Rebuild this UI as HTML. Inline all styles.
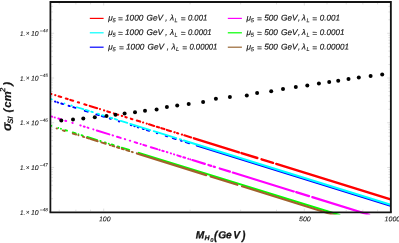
<!DOCTYPE html>
<html><head><meta charset="utf-8"><title>plot</title>
<style>
html,body{margin:0;padding:0;background:#fff;}
body{width:399px;height:243px;overflow:hidden;font-family:"Liberation Sans",sans-serif;}
svg{display:block;position:absolute;left:0;top:0;}
text{font-family:"Liberation Sans",sans-serif;fill:#000;text-rendering:geometricPrecision;}
.lg{font-size:8.25px;font-style:italic;stroke:#000;stroke-width:0.16px;}
.sb{font-size:5.6px;font-style:italic;stroke:#000;stroke-width:0.12px;}
.tk{font-size:6.7px;font-style:italic;fill:#000;stroke:#000;stroke-width:0.1px;}
.sp{font-size:4.7px;font-style:italic;fill:#000;stroke:#000;stroke-width:0.08px;}
.ax{font-size:10.2px;font-style:italic;font-weight:bold;fill:#000;stroke:#000;stroke-width:0.3px;}
.ay{font-size:11.2px;font-style:italic;font-weight:bold;fill:#000;stroke:#000;stroke-width:0.22px;}
.ays{font-size:7.8px;font-style:italic;font-weight:bold;fill:#000;stroke:#000;stroke-width:0.1px;}
.axs{font-size:7.0px;font-style:italic;font-weight:bold;fill:#000;stroke:#000;stroke-width:0.22px;}
.axss{font-size:5.8px;font-style:italic;font-weight:bold;fill:#000;stroke:#000;stroke-width:0.1px;}
</style></head><body>
<svg width="399" height="243" viewBox="0 0 399 243">
<rect x="0" y="0" width="399" height="243" fill="#fff"/>
<defs><clipPath id="cp"><rect x="50.4" y="2" width="340.5" height="212.6"/></clipPath></defs>

<g clip-path="url(#cp)">
<path d="M51.39 125.81L51.41 125.81M58.22 127.92L58.28 127.94M60.92 128.76L61.08 128.81M65.22 130.09L67.08 130.66M72.72 132.41L75.78 133.36M78.49 134.19L78.51 134.20M81.52 135.13L82.78 135.52M87.22 136.90L97.28 140.01M100.22 140.92L100.78 141.09M104.72 142.31L105.78 142.64M108.72 143.55L108.78 143.57M111.72 144.48L113.78 145.12M117.72 146.34L119.28 146.82M121.72 147.57L129.28 149.91" stroke="#00ff00" stroke-width="1.8" stroke-linecap="round" fill="none"/>
<path d="M138.80 152.86L339.50 214.98" stroke="#00ff00" stroke-width="2.0" stroke-linecap="round" fill="none"/>
<path d="M56.56 128.42L57.04 128.57M62.76 130.36L64.74 130.97M72.76 133.48L76.24 134.56M78.39 135.23L78.41 135.24M82.76 136.60L84.24 137.06M86.76 137.84L89.24 138.62M90.76 139.09L97.74 141.27M101.26 142.37L105.74 143.77M109.76 145.02L110.24 145.17M112.26 145.80L114.24 146.42M116.96 147.27L119.24 147.98M121.76 148.76L123.74 149.38M126.26 150.17L129.24 151.10M131.76 151.88L132.74 152.19" stroke="#a0622c" stroke-width="1.9" stroke-linecap="round" fill="none"/>
<path d="M136.88 153.48L206.20 175.11M210.58 176.48L237.32 184.82M242.08 186.30L335.50 215.45" stroke="#a0622c" stroke-width="2.2" stroke-linecap="round" fill="none"/>
<path d="M51.80 116.53L52.20 116.66M54.74 117.44L54.76 117.45M58.30 118.55L61.70 119.60M65.30 120.71L66.20 120.99M72.30 122.88L72.70 123.00M80.30 125.35L80.70 125.48M83.80 126.44L84.70 126.72M87.60 127.61L88.40 127.86M93.30 129.38L93.40 129.41M96.80 130.46L109.40 134.36M112.60 135.35L113.00 135.47M117.00 136.71L120.70 137.86M124.80 139.13L125.20 139.25M129.80 140.67L130.20 140.80M134.60 142.16L137.20 142.96M140.60 144.02L140.70 144.05M143.30 144.85L146.20 145.75M150.80 147.17L157.20 149.15M159.30 149.80L159.70 149.93M162.30 150.73L163.70 151.17M166.80 152.13L167.40 152.31M170.80 153.36L171.00 153.43M174.00 154.35L174.20 154.42M177.30 155.38L180.70 156.43M183.30 157.23L185.20 157.82M188.24 158.76L188.26 158.77M190.24 159.38L190.26 159.39" stroke="#ff00ff" stroke-width="2.0" stroke-linecap="round" fill="none"/>
<path d="M192.38 160.04L204.82 163.89M208.38 164.99L211.12 165.84M213.68 166.64L214.92 167.02M219.68 168.49L229.92 171.66M232.78 172.55L293.80 191.43M296.18 192.17L309.02 196.14M312.28 197.15L369.20 214.77" stroke="#ff00ff" stroke-width="2.2" stroke-linecap="round" fill="none"/>
<path d="M54.96 101.52L55.44 101.67M57.56 102.32L58.24 102.54M61.26 103.47L63.24 104.09M68.56 105.74L69.74 106.11M73.26 107.20L75.44 107.88M84.76 110.78L87.74 111.70M96.26 114.35L98.74 115.12M101.76 116.06L104.24 116.83M109.76 118.54L110.74 118.85M118.76 121.34L119.24 121.49M130.76 125.07L131.44 125.28M134.36 126.19L134.84 126.34M137.76 127.24L138.44 127.45M142.76 128.80L143.74 129.10M146.76 130.04L149.24 130.81M156.76 133.15L157.24 133.30M165.76 135.94L167.24 136.40M172.76 138.12L175.74 139.04M180.76 140.60L181.74 140.91M185.76 142.16L189.24 143.24" stroke="#0000ff" stroke-width="1.9" stroke-linecap="round" fill="none"/>
<path d="M196.80 145.59L392.00 206.24" stroke="#0000ff" stroke-width="2.0" stroke-linecap="round" fill="none"/>
<path d="M51.12 99.22L51.78 99.43M64.49 103.38L64.51 103.38M71.22 105.47L71.78 105.64M76.92 107.24L83.28 109.22M85.72 109.97L88.78 110.92M91.22 111.68L92.78 112.17M97.72 113.70L99.08 114.12M102.22 115.10L103.78 115.59M110.22 117.59L112.28 118.23M114.72 118.98L117.28 119.78M120.72 120.85L127.28 122.89M130.22 123.80L150.28 130.03M153.72 131.10L176.28 138.11M179.72 139.18L181.28 139.66" stroke="#00ffff" stroke-width="1.8" stroke-linecap="round" fill="none"/>
<path d="M183.84 140.46L392.00 205.14" stroke="#00ffff" stroke-width="2.1" stroke-linecap="round" fill="none"/>
<path d="M51.34 93.99L51.36 94.00M55.24 95.20L55.36 95.24M58.64 96.26L61.16 97.04M65.84 98.50L67.66 99.06M70.34 99.90L73.16 100.77M77.84 102.23L78.96 102.57M84.34 104.25L86.46 104.90M89.74 105.92L97.16 108.23M99.99 109.11L100.01 109.11M104.04 110.37L104.16 110.40M107.34 111.39L109.96 112.21M113.84 113.41L113.96 113.45M117.84 114.65L118.16 114.75M121.84 115.90L122.16 116.00M125.34 116.98L126.66 117.39M130.84 118.69L132.36 119.16M136.84 120.56L140.16 121.59M143.04 122.48L143.16 122.52M146.74 123.63L146.76 123.64M149.04 124.35L154.16 125.94M156.84 126.77L159.16 127.49M161.34 128.17L164.36 129.11M166.84 129.88L170.96 131.16M174.34 132.21L174.66 132.31M177.04 133.05L178.16 133.40M181.84 134.54L181.96 134.58M184.34 135.32L191.16 137.43" stroke="#ff0000" stroke-width="2.1" stroke-linecap="round" fill="none"/>
<path d="M193.96 138.30L239.00 152.30M241.46 153.06L257.34 158.00M261.56 159.31L273.04 162.87M276.26 163.87L392.00 199.84" stroke="#ff0000" stroke-width="2.4" stroke-linecap="round" fill="none"/>
</g>
<g fill="#000">
<circle cx="61.3" cy="120.4" r="2.0"/>
<circle cx="73.0" cy="119.5" r="2.0"/>
<circle cx="83.3" cy="118.5" r="2.0"/>
<circle cx="94.8" cy="117.3" r="2.0"/>
<circle cx="106.5" cy="116.0" r="2.0"/>
<circle cx="115.5" cy="114.8" r="2.0"/>
<circle cx="124.6" cy="113.5" r="2.0"/>
<circle cx="135" cy="112.2" r="2.0"/>
<circle cx="145" cy="110.7" r="2.0"/>
<circle cx="156.6" cy="109.4" r="2.0"/>
<circle cx="166.9" cy="107.1" r="2.0"/>
<circle cx="177.2" cy="105.4" r="2.0"/>
<circle cx="188.7" cy="104.1" r="2.0"/>
<circle cx="203.1" cy="101.9" r="2.0"/>
<circle cx="215.9" cy="98.8" r="2.0"/>
<circle cx="229.9" cy="97.1" r="2.0"/>
<circle cx="246.8" cy="95.4" r="2.0"/>
<circle cx="257.1" cy="92.9" r="2.0"/>
<circle cx="271.2" cy="91.2" r="2.0"/>
<circle cx="283" cy="89.1" r="2.0"/>
<circle cx="295.8" cy="87.1" r="2.0"/>
<circle cx="307.3" cy="85.4" r="2.0"/>
<circle cx="318.9" cy="83.5" r="2.0"/>
<circle cx="329.2" cy="82.1" r="2.0"/>
<circle cx="338.2" cy="80.8" r="2.0"/>
<circle cx="348.5" cy="78.9" r="2.0"/>
<circle cx="358.8" cy="77.6" r="2.0"/>
<circle cx="370.6" cy="75.9" r="2.0"/>
<circle cx="382.2" cy="74.4" r="2.0"/>
</g>
<path d="M51.3 198.73h1.6M390 198.73h-1.6M51.3 190.86h1.6M390 190.86h-1.6M51.3 185.27h1.6M390 185.27h-1.6M51.3 180.94h1.6M390 180.94h-1.6M51.3 177.39h1.6M390 177.39h-1.6M51.3 174.40h1.6M390 174.40h-1.6M51.3 171.80h1.6M390 171.80h-1.6M51.3 169.52h1.6M390 169.52h-1.6M51.3 167.47h2.8M390 167.47h-2.8M51.3 154.00h1.6M390 154.00h-1.6M51.3 146.13h1.6M390 146.13h-1.6M51.3 140.54h1.6M390 140.54h-1.6M51.3 136.21h1.6M390 136.21h-1.6M51.3 132.66h1.6M390 132.66h-1.6M51.3 129.67h1.6M390 129.67h-1.6M51.3 127.07h1.6M390 127.07h-1.6M51.3 124.79h1.6M390 124.79h-1.6M51.3 122.74h2.8M390 122.74h-2.8M51.3 109.27h1.6M390 109.27h-1.6M51.3 101.40h1.6M390 101.40h-1.6M51.3 95.81h1.6M390 95.81h-1.6M51.3 91.48h1.6M390 91.48h-1.6M51.3 87.93h1.6M390 87.93h-1.6M51.3 84.94h1.6M390 84.94h-1.6M51.3 82.34h1.6M390 82.34h-1.6M51.3 80.06h1.6M390 80.06h-1.6M51.3 78.01h2.8M390 78.01h-2.8M51.3 64.54h1.6M390 64.54h-1.6M51.3 56.67h1.6M390 56.67h-1.6M51.3 51.08h1.6M390 51.08h-1.6M51.3 46.75h1.6M390 46.75h-1.6M51.3 43.20h1.6M390 43.20h-1.6M51.3 40.21h1.6M390 40.21h-1.6M51.3 37.61h1.6M390 37.61h-1.6M51.3 35.33h1.6M390 35.33h-1.6M51.3 33.28h2.8M390 33.28h-2.8M51.3 19.81h1.6M390 19.81h-1.6M51.3 11.94h1.6M390 11.94h-1.6M51.3 6.35h1.6M390 6.35h-1.6M59.24 211.2v-1.5M59.24 2.9v1.5M75.89 211.2v-1.5M75.89 2.9v1.5M90.57 211.2v-1.5M90.57 2.9v1.5M103.70 211.2v-2.6M103.70 2.9v2.6M190.10 211.2v-1.5M190.10 2.9v1.5M240.63 211.2v-1.5M240.63 2.9v1.5M276.49 211.2v-1.5M276.49 2.9v1.5M304.30 211.2v-2.6M304.30 2.9v2.6M327.03 211.2v-1.5M327.03 2.9v1.5M346.24 211.2v-1.5M346.24 2.9v1.5M362.89 211.2v-1.5M362.89 2.9v1.5M377.57 211.2v-1.5M377.57 2.9v1.5" stroke="#444" stroke-width="0.4" fill="none" opacity="0.42"/>
<path d="M50.4 212.3V2.88" fill="none" stroke="#141414" stroke-width="1.75"/>
<path d="M49.52 1.97H391.78" fill="none" stroke="#141414" stroke-width="1.85"/>
<path d="M390.85 212.3V2.88" fill="none" stroke="#141414" stroke-width="1.85"/>
<path d="M49.52 212.35H391.78" fill="none" stroke="#141414" stroke-width="1.65"/>
<line x1="89.8" y1="18.4" x2="103.6" y2="18.4" stroke="#ff0000" stroke-width="1.2"/>
<line x1="89.8" y1="32.8" x2="103.6" y2="32.8" stroke="#00ffff" stroke-width="1.2"/>
<line x1="89.8" y1="47.2" x2="103.6" y2="47.2" stroke="#0000ff" stroke-width="1.2"/>
<line x1="227.8" y1="18.4" x2="241.9" y2="18.4" stroke="#ff00ff" stroke-width="1.2"/>
<line x1="227.8" y1="32.8" x2="241.9" y2="32.8" stroke="#00ff00" stroke-width="1.2"/>
<line x1="227.8" y1="47.2" x2="241.9" y2="47.2" stroke="#996633" stroke-width="1.2"/>
<g opacity="0.93">
<text class="lg" x="108.30" y="20.60" transform="rotate(0.03 108.30 20.60)">μ</text><text class="sb" x="112.60" y="22.30" transform="rotate(0.03 112.60 22.30)">5</text><text class="lg" x="117.90" y="21.50" transform="rotate(0.03 117.90 21.50)">=</text><text class="lg" x="125.00" y="20.60" transform="rotate(0.03 125.00 20.60)">1000</text><text class="lg" x="146.60" y="20.60" transform="rotate(0.03 146.60 20.60)">GeV</text><text class="lg" x="165.20" y="20.60" transform="rotate(0.03 165.20 20.60)">,</text><text class="lg" x="170.00" y="20.60" transform="rotate(0.03 170.00 20.60)">λ</text><text class="sb" x="174.60" y="22.20" transform="rotate(0.03 174.60 22.20)">L</text><text class="lg" x="180.80" y="21.50" transform="rotate(0.03 180.80 21.50)">=</text><text class="lg" x="187.90" y="20.60" transform="rotate(0.03 187.90 20.60)" textLength="19.40" lengthAdjust="spacingAndGlyphs">0.001</text>
<text class="lg" x="246.50" y="20.60" transform="rotate(0.03 246.50 20.60)">μ</text><text class="sb" x="250.70" y="22.30" transform="rotate(0.03 250.70 22.30)">5</text><text class="lg" x="256.90" y="21.50" transform="rotate(0.03 256.90 21.50)">=</text><text class="lg" x="264.20" y="20.60" transform="rotate(0.03 264.20 20.60)">500</text><text class="lg" x="281.00" y="20.60" transform="rotate(0.03 281.00 20.60)">GeV</text><text class="lg" x="298.00" y="20.60" transform="rotate(0.03 298.00 20.60)">,</text><text class="lg" x="301.80" y="20.60" transform="rotate(0.03 301.80 20.60)">λ</text><text class="sb" x="306.50" y="22.20" transform="rotate(0.03 306.50 22.20)">L</text><text class="lg" x="312.30" y="21.50" transform="rotate(0.03 312.30 21.50)">=</text><text class="lg" x="319.80" y="20.60" transform="rotate(0.03 319.80 20.60)" textLength="20.13" lengthAdjust="spacingAndGlyphs">0.001</text>
<text class="lg" x="108.30" y="35.05" transform="rotate(0.03 108.30 35.05)">μ</text><text class="sb" x="112.60" y="36.75" transform="rotate(0.03 112.60 36.75)">5</text><text class="lg" x="117.90" y="35.95" transform="rotate(0.03 117.90 35.95)">=</text><text class="lg" x="125.00" y="35.05" transform="rotate(0.03 125.00 35.05)">1000</text><text class="lg" x="146.60" y="35.05" transform="rotate(0.03 146.60 35.05)">GeV</text><text class="lg" x="165.20" y="35.05" transform="rotate(0.03 165.20 35.05)">,</text><text class="lg" x="170.00" y="35.05" transform="rotate(0.03 170.00 35.05)">λ</text><text class="sb" x="174.60" y="36.65" transform="rotate(0.03 174.60 36.65)">L</text><text class="lg" x="180.80" y="35.95" transform="rotate(0.03 180.80 35.95)">=</text><text class="lg" x="187.90" y="35.05" transform="rotate(0.03 187.90 35.05)" textLength="23.71" lengthAdjust="spacingAndGlyphs">0.0001</text>
<text class="lg" x="246.50" y="35.05" transform="rotate(0.03 246.50 35.05)">μ</text><text class="sb" x="250.70" y="36.75" transform="rotate(0.03 250.70 36.75)">5</text><text class="lg" x="256.90" y="35.95" transform="rotate(0.03 256.90 35.95)">=</text><text class="lg" x="264.20" y="35.05" transform="rotate(0.03 264.20 35.05)">500</text><text class="lg" x="281.00" y="35.05" transform="rotate(0.03 281.00 35.05)">GeV</text><text class="lg" x="298.00" y="35.05" transform="rotate(0.03 298.00 35.05)">,</text><text class="lg" x="301.80" y="35.05" transform="rotate(0.03 301.80 35.05)">λ</text><text class="sb" x="306.50" y="36.65" transform="rotate(0.03 306.50 36.65)">L</text><text class="lg" x="312.30" y="35.95" transform="rotate(0.03 312.30 35.95)">=</text><text class="lg" x="319.80" y="35.05" transform="rotate(0.03 319.80 35.05)" textLength="24.60" lengthAdjust="spacingAndGlyphs">0.0001</text>
<text class="lg" x="108.30" y="49.50" transform="rotate(0.03 108.30 49.50)">μ</text><text class="sb" x="112.60" y="51.20" transform="rotate(0.03 112.60 51.20)">5</text><text class="lg" x="118.90" y="50.40" transform="rotate(0.03 118.90 50.40)">=</text><text class="lg" x="126.00" y="49.50" transform="rotate(0.03 126.00 49.50)">1000</text><text class="lg" x="147.60" y="49.50" transform="rotate(0.03 147.60 49.50)">GeV</text><text class="lg" x="166.70" y="49.50" transform="rotate(0.03 166.70 49.50)">,</text><text class="lg" x="171.50" y="49.50" transform="rotate(0.03 171.50 49.50)">λ</text><text class="sb" x="176.10" y="51.10" transform="rotate(0.03 176.10 51.10)">L</text><text class="lg" x="182.30" y="50.40" transform="rotate(0.03 182.30 50.40)">=</text><text class="lg" x="189.40" y="49.50" transform="rotate(0.03 189.40 49.50)" textLength="28.03" lengthAdjust="spacingAndGlyphs">0.00001</text>
<text class="lg" x="246.50" y="49.50" transform="rotate(0.03 246.50 49.50)">μ</text><text class="sb" x="250.70" y="51.20" transform="rotate(0.03 250.70 51.20)">5</text><text class="lg" x="256.90" y="50.40" transform="rotate(0.03 256.90 50.40)">=</text><text class="lg" x="264.20" y="49.50" transform="rotate(0.03 264.20 49.50)">500</text><text class="lg" x="281.00" y="49.50" transform="rotate(0.03 281.00 49.50)">GeV</text><text class="lg" x="298.00" y="49.50" transform="rotate(0.03 298.00 49.50)">,</text><text class="lg" x="301.80" y="49.50" transform="rotate(0.03 301.80 49.50)">λ</text><text class="sb" x="306.50" y="51.10" transform="rotate(0.03 306.50 51.10)">L</text><text class="lg" x="312.30" y="50.40" transform="rotate(0.03 312.30 50.40)">=</text><text class="lg" x="319.80" y="49.50" transform="rotate(0.03 319.80 49.50)" textLength="29.07" lengthAdjust="spacingAndGlyphs">0.00001</text>
<text class="tk" x="0" y="0" transform="translate(20.00 214.70) rotate(0.03) scale(0.93 1)">1.</text>
<text class="tk" x="0" y="0" transform="translate(25.70 214.50) rotate(0.03) scale(0.95 1)">×</text>
<text class="tk" x="0" y="0" transform="translate(30.90 214.70) rotate(0.03) scale(1.03 1)">10</text>
<text class="sp" x="0" y="0" transform="translate(40.10 211.20) rotate(0.03) scale(0.98 1)">–48</text>
<text class="tk" x="0" y="0" transform="translate(20.00 169.97) rotate(0.03) scale(0.93 1)">1.</text>
<text class="tk" x="0" y="0" transform="translate(25.70 169.77) rotate(0.03) scale(0.95 1)">×</text>
<text class="tk" x="0" y="0" transform="translate(30.90 169.97) rotate(0.03) scale(1.03 1)">10</text>
<text class="sp" x="0" y="0" transform="translate(40.10 166.47) rotate(0.03) scale(0.98 1)">–47</text>
<text class="tk" x="0" y="0" transform="translate(20.00 125.24) rotate(0.03) scale(0.93 1)">1.</text>
<text class="tk" x="0" y="0" transform="translate(25.70 125.04) rotate(0.03) scale(0.95 1)">×</text>
<text class="tk" x="0" y="0" transform="translate(30.90 125.24) rotate(0.03) scale(1.03 1)">10</text>
<text class="sp" x="0" y="0" transform="translate(40.10 121.74) rotate(0.03) scale(0.98 1)">–46</text>
<text class="tk" x="0" y="0" transform="translate(20.00 80.51) rotate(0.03) scale(0.93 1)">1.</text>
<text class="tk" x="0" y="0" transform="translate(25.70 80.31) rotate(0.03) scale(0.95 1)">×</text>
<text class="tk" x="0" y="0" transform="translate(30.90 80.51) rotate(0.03) scale(1.03 1)">10</text>
<text class="sp" x="0" y="0" transform="translate(40.10 77.01) rotate(0.03) scale(0.98 1)">–45</text>
<text class="tk" x="0" y="0" transform="translate(20.00 35.78) rotate(0.03) scale(0.93 1)">1.</text>
<text class="tk" x="0" y="0" transform="translate(25.70 35.58) rotate(0.03) scale(0.95 1)">×</text>
<text class="tk" x="0" y="0" transform="translate(30.90 35.78) rotate(0.03) scale(1.03 1)">10</text>
<text class="sp" x="0" y="0" transform="translate(40.10 32.28) rotate(0.03) scale(0.98 1)">–44</text>
<text class="tk" x="99.00" y="221.30" transform="rotate(0.03 99.00 221.30)" textLength="11.6" lengthAdjust="spacingAndGlyphs">100</text>
<text class="tk" x="299.00" y="221.30" transform="rotate(0.03 299.00 221.30)" textLength="11.8" lengthAdjust="spacingAndGlyphs">500</text>
<text class="tk" x="384.60" y="221.30" transform="rotate(0.03 384.60 221.30)" textLength="15.6" lengthAdjust="spacingAndGlyphs">1000</text>
<text class="ax" x="195.80" y="238.20" transform="rotate(0.03 195.80 238.20)">M</text>
<text class="axs" x="204.60" y="240.20" transform="rotate(0.03 204.60 240.20)">H</text>
<text class="axss" x="210.20" y="242.00" transform="rotate(0.03 210.20 242.00)">0</text>
<text class="ax" x="0" y="0" transform="translate(214.00 239.60) rotate(0.03) scale(1 1.2)">(</text>
<text class="ax" x="218.20" y="238.20" transform="rotate(0.03 218.20 238.20)">G</text>
<text class="ax" x="226.10" y="238.20" transform="rotate(0.03 226.10 238.20)">e</text>
<text class="ax" x="233.20" y="238.20" transform="rotate(0.03 233.20 238.20)">V</text>
<text class="ax" x="0" y="0" transform="translate(241.90 239.60) rotate(0.03) scale(1 1.2)">)</text>
<g transform="translate(10.9 131) rotate(-89.97)">
<text class="ay" style="font-size:12.6px" x="0.0" y="0">σ</text>
<text class="ays" x="7.30" y="2.10">S</text>
<text class="ays" x="12.20" y="2.10">I</text>
<text class="ay" x="0" y="0" transform="translate(18.4 0.4) scale(1 1.0)">(</text>
<text class="ay" x="23.30" y="0.00">c</text>
<text class="ay" x="29.70" y="0.00">m</text>
<text class="ays" x="39.00" y="-5.60">2</text>
<text class="ay" x="0" y="0" transform="translate(45.3 0.4) scale(1 1.0)">)</text>
</g>
</g>
</svg></body></html>
